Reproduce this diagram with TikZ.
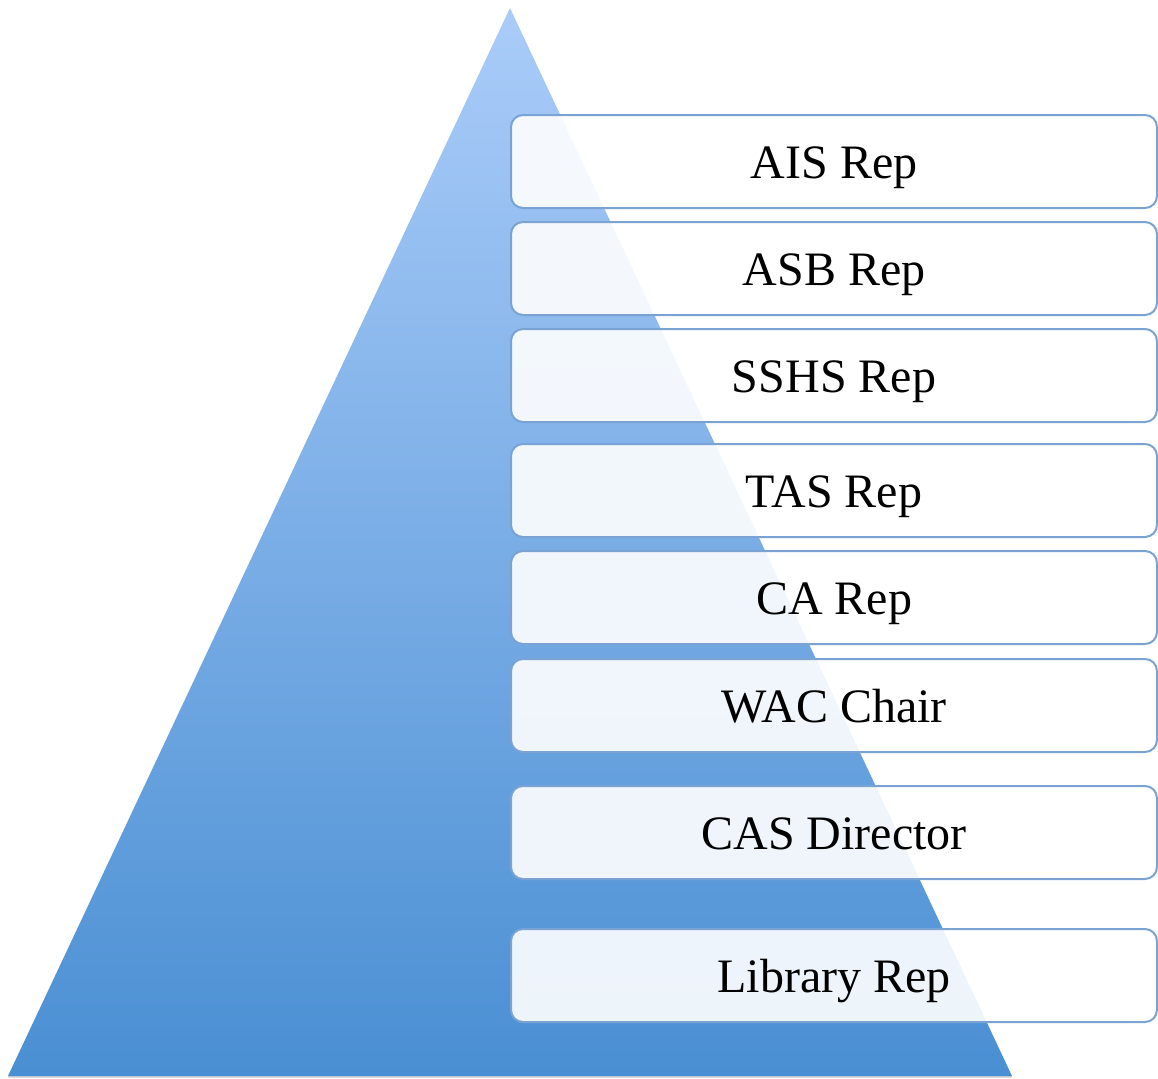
\documentclass[tikz,border=0pt]{standalone}
\usepackage{fontspec}
\setmainfont{Liberation Serif}
\usetikzlibrary{shadows}

\definecolor{pyrtop}{RGB}{170,204,249}
\definecolor{pyrbottom}{RGB}{74,143,211}
\definecolor{repedge}{RGB}{122,162,211}

\tikzset{
		pyramid/.style = {top color=pyrtop, bottom color=pyrbottom,
				drop shadow={shadow xshift=0pt, shadow yshift=-0.8pt, opacity=0.4}},
		repbox/.style  = {shape=rectangle, rounded corners=6pt,
				draw=repedge, line width=1pt,
				fill=white, fill opacity=0.9, text opacity=1,
				minimum width=323pt, minimum height=46.5pt, inner sep=0pt,
				text height=16.5pt, text depth=0pt,
				font=\fontsize{24}{28}\selectfont}
	}

\begin{document}
\begin{tikzpicture}[x=0.5pt, y=-0.5pt]
		\useasboundingbox (0,0) rectangle (1158,1078);
		% the pyramid
		\coordinate (apex) at (510,8);
		\coordinate (baseleft) at (8,1076);
		\coordinate (baseright) at (1012,1076);
		\shade[pyramid] (apex) -- (baseright) -- (baseleft) -- cycle;
		% the members
		\node[repbox] (ais)     at (834,161.5) {AIS Rep};
		\node[repbox] (asb)     at (834,268.5) {ASB Rep};
		\node[repbox] (sshs)    at (834,375.5) {SSHS Rep};
		\node[repbox] (tas)     at (834,490.5) {TAS Rep};
		\node[repbox] (ca)      at (834,597.5) {CA Rep};
		\node[repbox] (wac)     at (834,705.5) {WAC Chair};
		\node[repbox] (cas)     at (834,832.5) {CAS Director};
		\node[repbox] (library) at (834,975.5) {Library Rep};
	\end{tikzpicture}
\end{document}
